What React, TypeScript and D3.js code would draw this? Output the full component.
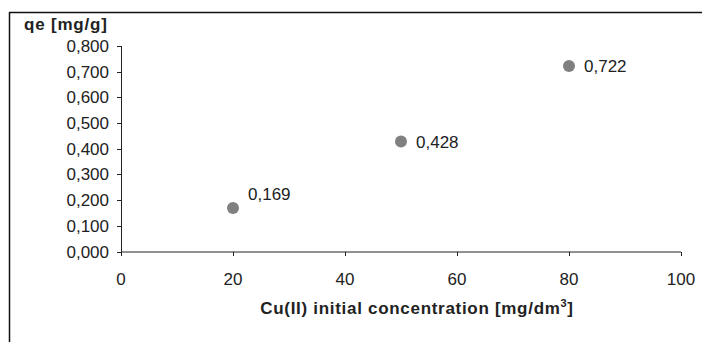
import React from 'react';
import { scaleLinear } from 'd3';

const concentrations = [20, 50, 80];
const qeValues = [0.169, 0.428, 0.722];
const valueLabels = ['0,169', '0,428', '0,722'];
const xTicks = [0, 20, 40, 60, 80, 100];
const yTicks = [0, 0.1, 0.2, 0.3, 0.4, 0.5, 0.6, 0.7, 0.8];

const fmtY = (v: number) => v.toFixed(3).replace('.', ',');

export default function App() {
    const xScale = scaleLinear().domain([0, 100]).range([121, 681]);
    const yScale = scaleLinear().domain([0, 0.8]).range([251.5, 46]);
    const font = '"Liberation Sans", Arial, sans-serif';
    // label nudges, first one sits higher like in the original
    const labelDy = [-8, 6, 5.5];

    return (
        <svg
            width={702}
            height={342}
            style={{ position: 'absolute', left: 0, top: 0, background: '#fff' }}
            fontFamily={font}
        >
            {/* outer frame (only top/left visible) */}
            <line x1={9} y1={12.5} x2={702} y2={12.5} stroke="#111" strokeWidth={1.5} />
            <line x1={9.5} y1={12} x2={9.5} y2={342} stroke="#111" strokeWidth={1.5} />

            {/* y axis */}
            <line x1={121.5} y1={yScale(0.8)} x2={121.5} y2={yScale(0) + 4} stroke="#222" />
            {yTicks.map((t) => (
                <g key={t}>
                    <line x1={117} x2={121.5} y1={Math.round(yScale(t)) + 0.5} y2={Math.round(yScale(t)) + 0.5} stroke="#222" />
                    <text x={109} y={yScale(t) + 6} textAnchor="end" fontSize={17} fill="#222">
                        {fmtY(t)}
                    </text>
                </g>
            ))}

            {/* x axis */}
            <line x1={121} y1={252} x2={xScale(100)} y2={252} stroke="#222" />
            {xTicks.map((t) => (
                <g key={t}>
                    <line x1={Math.round(xScale(t)) + 0.5} x2={Math.round(xScale(t)) + 0.5} y1={252} y2={256} stroke="#222" />
                    <text x={xScale(t)} y={285} textAnchor="middle" fontSize={17} fill="#222">
                        {t}
                    </text>
                </g>
            ))}

            {/* titles */}
            <text x={24} y={30} fontSize={17} fontWeight="bold" fill="#222" letterSpacing={0.8}>
                qe [mg/g]
            </text>
            <text x={417} y={314} textAnchor="middle" fontSize={17} fontWeight="bold" fill="#222" letterSpacing={0.7}>
                Cu(II) initial concentration [mg/dm
                <tspan fontSize={11} dy={-7}>3</tspan>
                <tspan dy={7}>]</tspan>
            </text>

            {/* points */}
            {concentrations.map((c, i) => (
                <g key={c}>
                    <circle cx={xScale(c)} cy={yScale(qeValues[i])} r={6} fill="#808080" />
                    <text x={xScale(c) + 15} y={yScale(qeValues[i]) + labelDy[i]} fontSize={17} fill="#222">
                        {valueLabels[i]}
                    </text>
                </g>
            ))}
        </svg>
    );
}
